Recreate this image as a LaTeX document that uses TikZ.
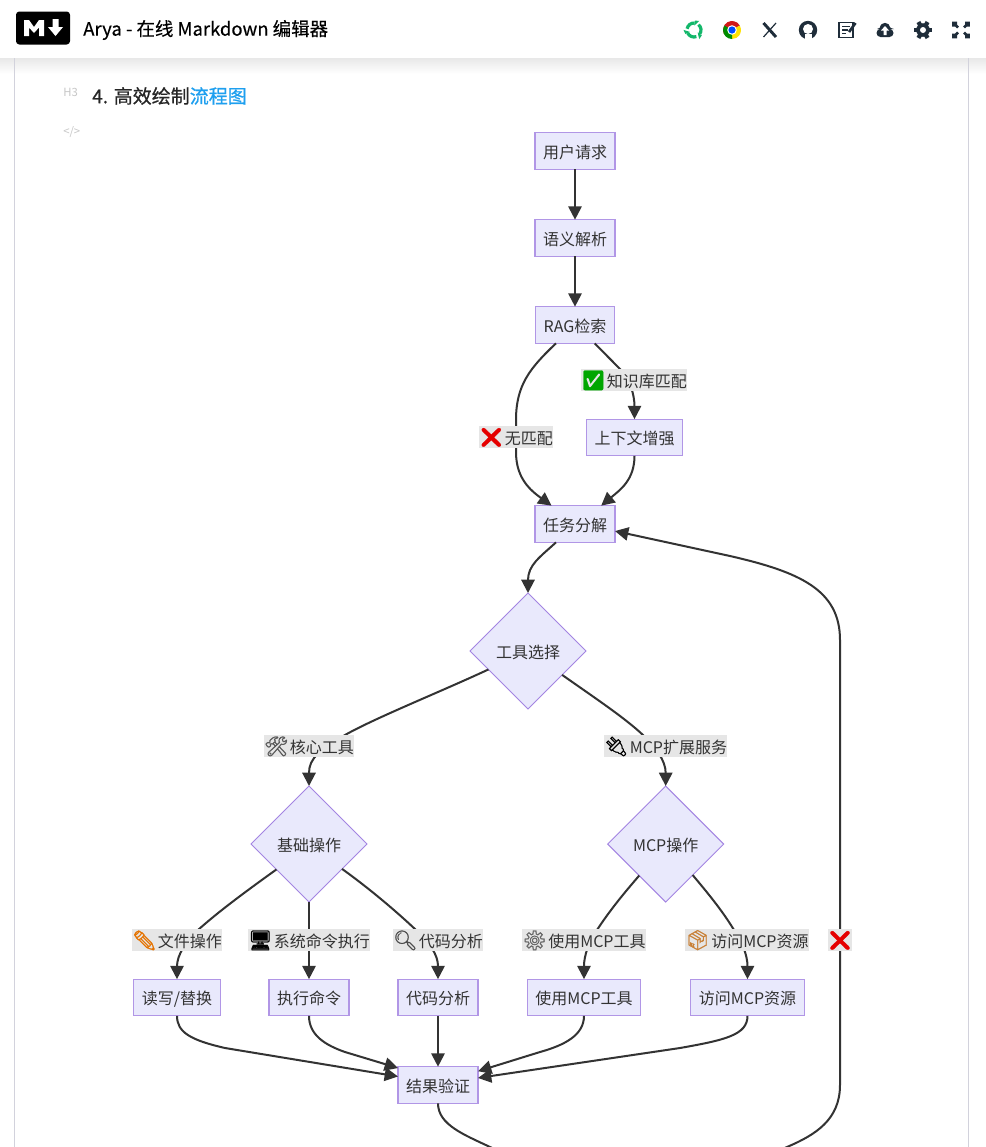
\documentclass[tikz,border=0pt]{standalone}
\usepackage{fontspec}
\setmainfont{Noto Sans CJK SC}
\newfontfamily\emofont[FakeBold=1.2]{Noto Emoji}
\newfontfamily\medfont[FakeBold=0.35]{Noto Sans CJK SC}
\newfontfamily\headfont[FakeBold=0.8]{Noto Sans CJK SC}
\usetikzlibrary{arrows.meta,shapes.geometric}
\definecolor{nodefill}{HTML}{E9E9FC}
\definecolor{nodeline}{HTML}{B196E6}
\definecolor{diamondline}{HTML}{A384E2}
\definecolor{inkdark}{HTML}{333333}
\definecolor{iconink}{HTML}{1F2D3A}
\definecolor{labelgray}{HTML}{E6E6E6}
\definecolor{sideline}{HTML}{D2D2DC}
\definecolor{swirlgreen}{HTML}{13B76A}
\newcommand{\emo}[2]{{\emofont\fontsize{14.5}{14}\selectfont\textcolor{#1}{#2}}\hspace{1pt}}
\tikzset{
  proc/.style={draw=nodeline,fill=nodefill,line width=0.9pt,text=inkdark,font=\fontsize{12}{14}\selectfont,text height=11pt,text depth=0.5pt,minimum height=27.5pt,inner xsep=6pt,inner ysep=0pt,outer sep=0pt},
  decide/.style={diamond,draw=diamondline,fill=nodefill,line width=0.75pt,text=inkdark,font=\fontsize{12}{14}\selectfont,text height=11pt,text depth=0.5pt,minimum size=87pt,inner sep=0pt,outer sep=0pt},
  flow/.style={draw=inkdark,line width=1.5pt,-{Triangle[length=10pt,width=10pt]}},
  edgelab/.style={fill=labelgray,text=inkdark,font=\fontsize{12}{14}\selectfont,text height=11pt,text depth=0.5pt,minimum height=16pt,inner xsep=0pt,inner ysep=0pt}
}
\begin{document}
\begin{tikzpicture}[x=0.75pt,y=0.75pt,yscale=-1,xscale=1]
\useasboundingbox (0,0) rectangle (986,1147);
\clip (0,0) rectangle (986,1147);
\fill[white] (0,0) rectangle (986,1147);
% page frame and header
\shade[top color=black!9,bottom color=white] (0,58) rectangle (986,74);
\draw[sideline,line width=0.9pt] (14.5,58) -- (14.5,1147);
\draw[sideline,line width=0.9pt] (968.5,58) -- (968.5,1147);
\fill[black,rounded corners=2.5pt] (16,11.5) rectangle (70,44.5);
\fill[white] (24,36) -- (24,20) -- (29,20) -- (34,27) -- (39,20) -- (44,20) -- (44,36) -- (39,36) -- (39,27.5) -- (34,33) -- (29,27.5) -- (29,36) -- cycle;
\fill[white] (52.5,19) -- (58.5,19) -- (58.5,27) -- (63,27) -- (55.5,36) -- (48,27) -- (52.5,27) -- cycle;
\node (apptitle) [anchor=west,inner sep=0pt,text=black,font=\fontsize{13.85}{16}\selectfont\medfont] at (83,30) {Arya - 在线 Markdown 编辑器};
\node (hlevel) [anchor=west,inner sep=0pt,text=black!22,font=\fontsize{8.5}{10}\selectfont] at (63,92.5) {H3};
\node (heading) [anchor=west,inner sep=0pt,text=black!85,font=\fontsize{14.25}{18}\selectfont\headfont] at (92,96) {4. 高效绘制\textcolor[HTML]{1E9FEF}{流程图}};
\node (codemark) [anchor=west,inner sep=0pt,text=black!22,font=\fontsize{8.5}{10}\selectfont] at (63,132.5) {</>};
% toolbar icons
\foreach \ang in {70,190,310} {
  \draw[swirlgreen,line width=2.4pt] (694,30) ++(\ang:7) arc (\ang:\ang+85:7);
  \fill[swirlgreen] (694,30) ++(\ang+85:4.5) -- ++(\ang+85:5) -- ++(\ang+175:4.5) -- cycle;
}
\fill[red!80!black!90] (732,30) -- ++(-30:9) arc (-30:-210:9) -- cycle;
\fill[yellow!85!orange] (732,30) -- ++(-30:9) arc (-30:90:9) -- cycle;
\fill[green!55!black] (732,30) -- ++(90:9) arc (90:210:9) -- cycle;
\fill[white] (732,30) circle (4.8);
\fill[blue!70!cyan] (732,30) circle (3.6);
\draw[iconink,line width=2.2pt] (763.5,23) -- (776,37);
\draw[iconink,line width=0.9pt] (776,23) -- (763.5,37);
\fill[iconink] (808,30) circle (9.2);
\fill[white] (808,29) circle (5);
\fill[white] (804.5,34) rectangle (811.5,39.5);
\fill[iconink] (800,33) rectangle (804,35);
\draw[iconink,line width=1.4pt] (839,22.5) rectangle (853,37.5);
\draw[iconink,line width=1pt] (842,26.5) -- (850,26.5) (842,30) -- (848,30) (842,33.5) -- (846,33.5);
\draw[iconink,line width=2pt] (849,32) -- (855.5,23);
\fill[iconink,rounded corners=3pt] (876.5,37) -- (876.5,29) -- (881,29) -- (881,25) -- (888,24.5) -- (890,29) -- (893.5,29) -- (893.5,37) -- cycle;
\fill[iconink] (885,28) circle (5.2);
\fill[white] (885,26) -- (889,30.5) -- (886.5,30.5) -- (886.5,35) -- (883.5,35) -- (883.5,30.5) -- (881,30.5) -- cycle;
\fill[iconink] (923,30) circle (6.8);
\foreach \ang in {0,60,...,300}
  \draw[iconink,line width=3.2pt] (923,30) ++(\ang:5) -- ++(\ang:4.2);
\fill[white] (923,30) circle (3);
\draw[iconink,line width=2pt] (953.5,26.5) -- (953.5,23) -- (957,23) (953.5,23) -- (958,27.5);
\draw[iconink,line width=2pt] (968.5,26.5) -- (968.5,23) -- (965,23) (968.5,23) -- (964,27.5);
\draw[iconink,line width=2pt] (953.5,33.5) -- (953.5,37) -- (957,37) (953.5,37) -- (958,32.5);
\draw[iconink,line width=2pt] (968.5,33.5) -- (968.5,37) -- (965,37) (968.5,37) -- (964,32.5);
% flowchart nodes
\node (user) [proc,minimum width=59pt] at (575,151) {用户请求};
\node (parse) [proc,minimum width=59pt] at (575,238) {语义解析};
\node (rag) [proc,minimum width=59pt] at (575,325) {RAG检索};
\node (ctx) [proc,minimum width=70.5pt] at (634.5,437.5) {上下文增强};
\node (task) [proc,minimum width=59pt] at (575,524) {任务分解};
\node (tool) [decide] at (528,651) {工具选择};
\node (base) [decide] at (309,844) {基础操作};
\node (mcpop) [decide] at (665.7,844) {MCP操作};
\node (rw) [proc,minimum width=64pt] at (177,997.5) {读写/替换};
\node (exec) [proc,minimum width=59pt] at (309,997.5) {执行命令};
\node (code) [proc,minimum width=59pt] at (438,997.5) {代码分析};
\node (usemcp) [proc,minimum width=85pt] at (584,997.5) {使用MCP工具};
\node (resmcp) [proc,minimum width=85pt] at (747.5,997.5) {访问MCP资源};
\node (verify) [proc,minimum width=59pt] at (438,1085) {结果验证};
% connectors
\draw[flow] (user) -- (parse);
\draw[flow] (parse) -- (rag);
\draw[flow] (rag.-43.5) -- (620,369) .. controls (630,379) and (634.5,395) .. (ctx.north);
\draw[flow] (rag.-136.5) .. controls (530,368) and (516,385) .. (516,420) -- (516,452) .. controls (516,478) and (530,490) .. (task.142.8);
\draw[flow] (ctx.south) .. controls (634.5,480) and (620,490) .. (task.35.4);
\draw[flow] (task.-136.5) .. controls (540,557) and (528,565) .. (tool.north);
\draw[flow] (tool.-155) .. controls (440,692) and (375,718) .. (345,735) .. controls (320,750) and (309,758) .. (base.north);
\draw[flow] (tool.-35.2) .. controls (595,698) and (625,718) .. (643,735) .. controls (655,747) and (665.7,760) .. (mcpop.north);
\draw[flow] (base.-142.6) .. controls (245,892) and (218,912) .. (198,930) .. controls (186,941) and (177,955) .. (rw.north);
\draw[flow] (base.south) -- (exec.north);
\draw[flow] (base.-37.6) .. controls (370,889) and (397,912) .. (416,930) .. controls (430,943) and (438,955) .. (code.north);
\draw[flow] (mcpop.-130) .. controls (625,892) and (610,910) .. (597,930) .. controls (589,942) and (584,955) .. (usemcp.north);
\draw[flow] (mcpop.-49) .. controls (706,891) and (722,910) .. (734,930) .. controls (742,942) and (747.5,955) .. (resmcp.north);
\draw[flow] (rw.south) .. controls (177,1032) and (190,1040) .. (225,1048) -- (verify.168.7);
\draw[flow] (exec.south) .. controls (309,1035) and (325,1045) .. (345,1052) -- (verify.157);
\draw[flow] (code.south) -- (verify.north);
\draw[flow] (usemcp.south) .. controls (584,1035) and (565,1045) .. (540,1052) -- (verify.19.3);
\draw[flow] (resmcp.south) .. controls (747.5,1035) and (725,1040) .. (680,1048) -- (verify.10);
\draw[flow] (verify.south) .. controls (438,1125) and (465,1135) .. (490,1147) .. controls (540,1172) and (735,1172) .. (787,1147) .. controls (815,1135) and (840,1120) .. (840,1085) -- (840,640) .. controls (840,590) and (800,572) .. (730,556) -- (task.-10);
% connector labels
\node (nomatch) [edgelab] at (516,437) {\emo{red!90!black}{❌}无匹配};
\node (kbmatch) [edgelab] at (634,380) {\emo{green!65!black}{✅}知识库匹配};
\node (coretool) [edgelab] at (309,746) {\emo{black!65}{🛠}核心工具};
\node (mcpext) [edgelab] at (665.5,746) {\emo{black}{🔌}MCP扩展服务};
\node (fileop) [edgelab] at (177,940) {\emo{orange!90!black}{✏}文件操作};
\node (sysop) [edgelab] at (309,940) {\emo{black}{🖥}系统命令执行};
\node (codeop) [edgelab] at (438,940) {\emo{black!70}{🔍}代码分析};
\node (useop) [edgelab] at (584,940) {\emo{black!60}{⚙}使用MCP工具};
\node (resop) [edgelab] at (747,940) {\emo{brown!85!orange}{📦}访问MCP资源};
\node (fail) [edgelab] at (840,940) {{\emofont\fontsize{14.5}{14}\selectfont\textcolor{red!90!black}{❌}}};
\end{tikzpicture}
\end{document}
